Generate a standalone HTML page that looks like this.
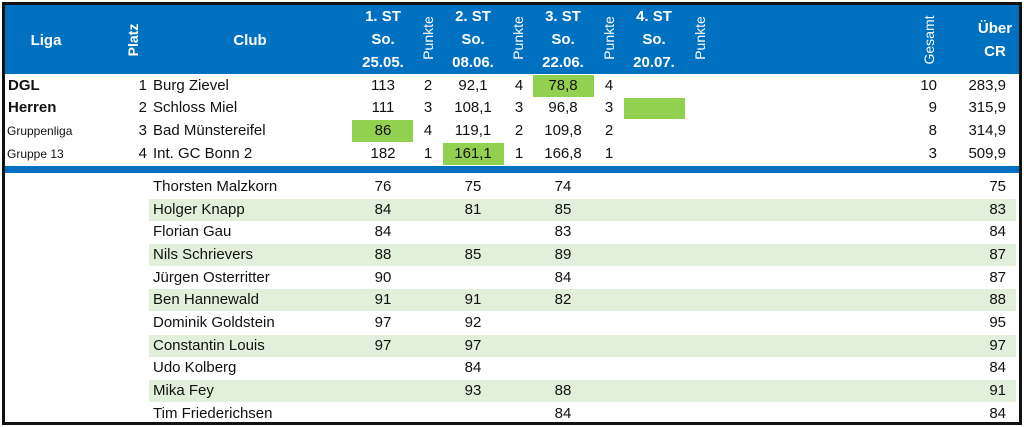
<!DOCTYPE html>
<html><head><meta charset="utf-8"><style>
body{margin:0;width:1024px;height:427px;background:#fff;position:relative;overflow:hidden;font-family:"Liberation Sans",sans-serif;}
.a{position:absolute;white-space:nowrap;}
.t{position:absolute;font-size:15px;color:#111;line-height:22px;height:22px;white-space:nowrap;}
.c{transform:translateX(-50%);}
.r{transform:translateX(-100%);}
.h{position:absolute;color:#fff;font-weight:bold;font-size:15px;line-height:23px;text-align:center;white-space:nowrap;}
.rot{position:absolute;color:#fff;font-size:14px;transform:translate(-50%,-50%) rotate(-90deg);white-space:nowrap;}
.g{position:absolute;background:#92d050;}
.band{position:absolute;left:149px;width:867px;height:22px;background:#e2efda;}
</style></head><body>
<div class="a" style="left:2px;top:2px;width:1014px;height:417px;border:3px solid #111;"></div>
<div class="a" style="left:5px;top:5px;width:1014px;height:69px;background:#0070c0;"></div>
<div class="h" style="left:16px;width:60px;top:29px;">Liga</div>
<div class="rot" style="left:133px;top:40px;font-weight:bold;">Platz</div>
<div class="h" style="left:220px;width:60px;top:29px;">Club</div>
<div class="h" style="left:343px;width:80px;top:5px;">1. ST<br>So.<br>25.05.</div>
<div class="rot" style="left:428px;top:38px;">Punkte</div>
<div class="h" style="left:433px;width:80px;top:5px;">2. ST<br>So.<br>08.06.</div>
<div class="rot" style="left:518px;top:38px;">Punkte</div>
<div class="h" style="left:523px;width:80px;top:5px;">3. ST<br>So.<br>22.06.</div>
<div class="rot" style="left:609px;top:38px;">Punkte</div>
<div class="h" style="left:614px;width:80px;top:5px;">4. ST<br>So.<br>20.07.</div>
<div class="rot" style="left:700px;top:38px;">Punkte</div>
<div class="rot" style="left:929px;top:40px;">Gesamt</div>
<div class="h" style="left:965px;width:60px;top:17px;">Über<br>CR</div>

<div class="g" style="left:352px;top:120px;width:61px;height:22px;"></div>
<div class="g" style="left:443px;top:143px;width:61px;height:22px;"></div>
<div class="g" style="left:533px;top:75px;width:61px;height:22px;"></div>
<div class="g" style="left:624px;top:98px;width:61px;height:21px;"></div>

<div class="t" style="left:8px;top:75px;font-weight:bold;">DGL</div>
<div class="t" style="left:8px;top:97px;font-weight:bold;">Herren</div>
<div class="t" style="left:7px;top:120px;font-size:12px;">Gruppenliga</div>
<div class="t" style="left:7px;top:143px;font-size:12px;">Gruppe 13</div>

<div>
<div class="t r" style="left:147px;top:75px;">1</div><div class="t" style="left:153px;top:75px;">Burg Zievel</div><div class="t c" style="left:383px;top:75px;">113</div><div class="t c" style="left:428px;top:75px;">2</div><div class="t c" style="left:473px;top:75px;">92,1</div><div class="t c" style="left:519px;top:75px;">4</div><div class="t c" style="left:563px;top:75px;">78,8</div><div class="t c" style="left:609px;top:75px;">4</div><div class="t r" style="left:937px;top:75px;">10</div><div class="t r" style="left:1006px;top:75px;">283,9</div>
<div class="t r" style="left:147px;top:97px;">2</div><div class="t" style="left:153px;top:97px;">Schloss Miel</div><div class="t c" style="left:383px;top:97px;">111</div><div class="t c" style="left:428px;top:97px;">3</div><div class="t c" style="left:473px;top:97px;">108,1</div><div class="t c" style="left:519px;top:97px;">3</div><div class="t c" style="left:563px;top:97px;">96,8</div><div class="t c" style="left:609px;top:97px;">3</div><div class="t r" style="left:937px;top:97px;">9</div><div class="t r" style="left:1006px;top:97px;">315,9</div>
<div class="t r" style="left:147px;top:120px;">3</div><div class="t" style="left:153px;top:120px;">Bad Münstereifel</div><div class="t c" style="left:383px;top:120px;">86</div><div class="t c" style="left:428px;top:120px;">4</div><div class="t c" style="left:473px;top:120px;">119,1</div><div class="t c" style="left:519px;top:120px;">2</div><div class="t c" style="left:563px;top:120px;">109,8</div><div class="t c" style="left:609px;top:120px;">2</div><div class="t r" style="left:937px;top:120px;">8</div><div class="t r" style="left:1006px;top:120px;">314,9</div>
<div class="t r" style="left:147px;top:143px;">4</div><div class="t" style="left:153px;top:143px;">Int. GC Bonn 2</div><div class="t c" style="left:383px;top:143px;">182</div><div class="t c" style="left:428px;top:143px;">1</div><div class="t c" style="left:473px;top:143px;">161,1</div><div class="t c" style="left:519px;top:143px;">1</div><div class="t c" style="left:563px;top:143px;">166,8</div><div class="t c" style="left:609px;top:143px;">1</div><div class="t r" style="left:937px;top:143px;">3</div><div class="t r" style="left:1006px;top:143px;">509,9</div>
</div>

<div class="a" style="left:5px;top:166px;width:1014px;height:7px;background:#0070c0;"></div>

<div id="players"></div>
<script>
const names=["Thorsten Malzkorn","Holger Knapp","Florian Gau","Nils Schrievers","Jürgen Osterritter","Ben Hannewald","Dominik Goldstein","Constantin Louis","Udo Kolberg","Mika Fey","Tim Friederichsen"];
const st1=["76","84","84","88","90","91","97","97","","",""];
const st2=["75","81","","85","","91","92","97","84","93",""];
const st3=["74","85","83","89","84","82","","","","88","84"];
const cr=["75","83","84","87","87","88","95","97","84","91","84"];
const host=document.getElementById('players');
names.forEach((n,i)=>{
  const top=176+i*22.65;
  if(i%2===1){
    const b=document.createElement('div');b.className='band';b.style.top=top+'px';
    
    
    host.appendChild(b);
  }
  const cells=[[n,153,''],[st1[i],383,'c'],[st2[i],473,'c'],[st3[i],563,'c'],[cr[i],1006,'r']];
  cells.forEach(([txt,x,cls],j)=>{
    if(!txt)return;
    const d=document.createElement('div');d.className='t '+cls;d.style.left=x+'px';d.style.top=top+'px';d.textContent=txt;
    
    
    host.appendChild(d);
  });
});
</script>
</body></html>
